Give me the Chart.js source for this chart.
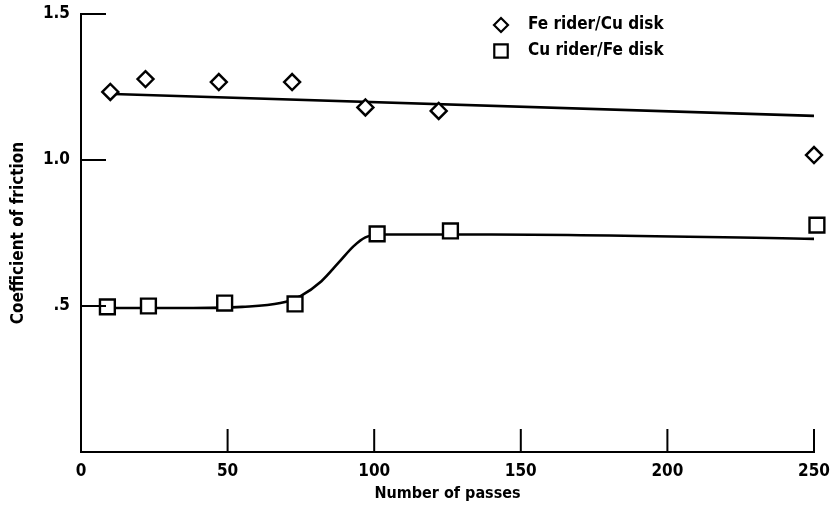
<!DOCTYPE html>
<html>
<head>
<meta charset="utf-8">
<script src="https://cdn.jsdelivr.net/npm/chart.js@4.4.1/dist/chart.umd.min.js"></script>
<style>
  body { margin: 0; background: #fff; }
  #wrap { width: 831px; height: 507px; position: relative; }
</style>
</head>
<body>
<div id="wrap"><canvas id="frictionChart"></canvas></div>
<script>
// measured points
const feX = [10, 22, 47, 72, 97, 122, 250]
const feY = [1.233, 1.277, 1.267, 1.267, 1.18, 1.168, 1.017]
const cuX = [9, 23, 49, 73, 101, 126, 251]
const cuY = [0.497, 0.50, 0.51, 0.507, 0.747, 0.757, 0.777]

// hand-drawn fit curves
const feFitX = [11, 250]
const feFitY = [1.226, 1.151]
const cuFitX = [10, 35, 55, 68, 75, 82, 88, 93, 97, 102, 140, 250]
const cuFitY = [0.493, 0.493, 0.497, 0.51, 0.535, 0.585, 0.65, 0.705, 0.735, 0.745, 0.745, 0.73]

const xTicks = [0, 50, 100, 150, 200, 250]
const yTicks = [0, 0.5, 1.0, 1.5]
const yTickLabels = ['', '.5', '1.0', '1.5']

const legendLabels = ['Fe rider/Cu disk', 'Cu rider/Fe disk']

const FONT = "'Liberation Sans Narrow', 'DejaVu Sans Condensed', sans-serif"

function pts(xs, ys) {
    return xs.map((x, i) => ({ x: x, y: ys[i] }))
}

// inward tick marks + legend drawn by hand
const decorations = {
    id: 'decorations',
    afterDraw(chart) {
        const ctx = chart.ctx
        const xs = chart.scales.x
        const ys = chart.scales.y
        const area = chart.chartArea
        ctx.save()
        ctx.strokeStyle = '#000'
        ctx.lineWidth = 2
        ctx.beginPath()
        xTicks.forEach(v => {
            if (v === 0) return
            const px = xs.getPixelForValue(v)
            ctx.moveTo(px, area.bottom)
            ctx.lineTo(px, area.bottom - 23)
        })
        yTicks.forEach(v => {
            if (v === 0) return
            const py = ys.getPixelForValue(v)
            ctx.moveTo(area.left, py)
            ctx.lineTo(area.left + 25, py)
        })
        ctx.stroke()

        // legend
        const rows = [
            { style: 'rectRot', r: 7, y: 25 },
            { style: 'rect', r: 9.5, y: 51 }
        ]
        rows.forEach((row, i) => {
            ctx.fillStyle = '#fff'
            ctx.strokeStyle = '#000'
            ctx.lineWidth = 2.2
            Chart.helpers.drawPoint(ctx, { pointStyle: row.style, radius: row.r, borderWidth: 2.2 }, 501, row.y)
            ctx.font = 'bold 17px ' + FONT
            ctx.fillStyle = '#000'
            ctx.textBaseline = 'middle'
            ctx.fillText(legendLabels[i], 528, row.y)
        })
        ctx.restore()
    }
}

new Chart(document.getElementById('frictionChart'), {
    type: 'scatter',
    data: {
        datasets: [
            {
                label: legendLabels[0],
                data: pts(feX, feY),
                pointStyle: 'rectRot',
                pointRadius: 8,
                pointBorderWidth: 2.4,
                pointBorderColor: '#000',
                pointBackgroundColor: '#fff',
                showLine: false,
                clip: false,
                order: 0
            },
            {
                label: legendLabels[1],
                data: pts(cuX, cuY),
                pointStyle: 'rect',
                pointRadius: 10.5,
                pointBorderWidth: 2.4,
                pointBorderColor: '#000',
                pointBackgroundColor: '#fff',
                showLine: false,
                clip: false,
                order: 0
            },
            {
                label: 'fe fit',
                data: pts(feFitX, feFitY),
                showLine: true,
                borderColor: '#000',
                borderWidth: 2.6,
                pointRadius: 0,
                order: 1
            },
            {
                label: 'cu fit',
                data: pts(cuFitX, cuFitY),
                showLine: true,
                borderColor: '#000',
                borderWidth: 2.6,
                pointRadius: 0,
                cubicInterpolationMode: 'monotone',
                order: 1
            }
        ]
    },
    options: {
        responsive: true,
        maintainAspectRatio: false,
        animation: false,
        layout: { padding: { top: 14, right: 17, left: 0, bottom: 0 } },
        plugins: {
            legend: { display: false },
            tooltip: { enabled: false }
        },
        scales: {
            x: {
                type: 'linear',
                min: 0,
                max: 250,
                afterBuildTicks: (s) => { s.ticks = xTicks.map(v => ({ value: v })) },
                grid: { display: false },
                border: { display: true, color: '#000', width: 2 },
                ticks: { color: '#000', font: { family: FONT, size: 17, weight: 'bold' }, padding: 1, maxRotation: 0 },
                title: { display: true, text: 'Number of passes', color: '#000', font: { family: FONT, size: 16, weight: 'bold' }, padding: { top: 4 } },
                afterFit: (s) => { s.height = 55 }
            },
            y: {
                type: 'linear',
                min: 0,
                max: 1.5,
                afterBuildTicks: (s) => { s.ticks = yTicks.map(v => ({ value: v })) },
                grid: { display: false },
                border: { display: true, color: '#000', width: 2 },
                ticks: {
                    color: '#000',
                    font: { family: FONT, size: 17, weight: 'bold' },
                    padding: 3,
                    callback: (v) => yTickLabels[yTicks.indexOf(v)]
                },
                title: { display: true, text: 'Coefficient of friction', color: '#000', font: { family: FONT, size: 17, weight: 'bold' }, padding: { top: 8, bottom: 20 } },
                afterFit: (s) => { s.width = 81 }
            }
        }
    },
    plugins: [decorations]
})
</script>
</body>
</html>
